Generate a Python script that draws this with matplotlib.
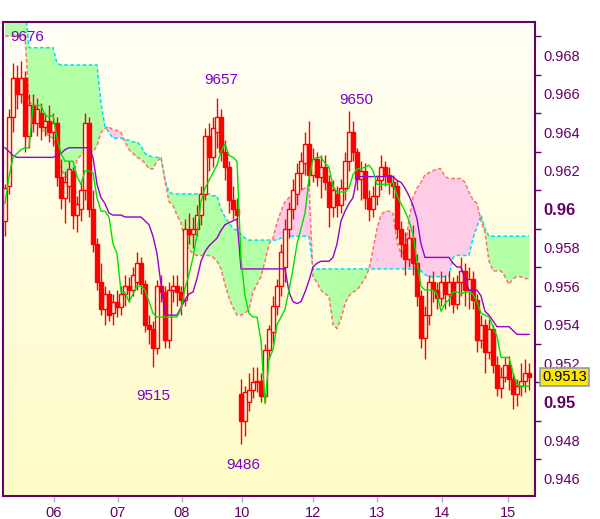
import numpy as np
import matplotlib.pyplot as plt
from matplotlib.transforms import blended_transform_factory

plt.rcParams['font.family'] = ['Liberation Sans', 'DejaVu Sans']

# hourly candles, prices in pips (1/10000)
opens = [9594, 9612, 9648, 9668, 9660, 9668, 9638, 9654, 9645, 9650,
         9643, 9646, 9640, 9645, 9617, 9606, 9612, 9620, 9597, 9600,
         9610, 9645, 9600, 9582, 9562, 9548, 9556, 9546, 9552, 9549,
         9556, 9560, 9558, 9562, 9572, 9561, 9540, 9538, 9528, 9560,
         9557, 9532, 9558, 9560, 9557, 9553, 9590, 9587, 9590, 9597,
         9608, 9638, 9627, 9640, 9648, 9630, 9622, 9605, 9600, 9504,
         9490, 9500, 9506, 9510, 9511, 9503, 9527, 9536, 9550, 9560,
         9570, 9590, 9600, 9608, 9619, 9624, 9634, 9618, 9626, 9617,
         9622, 9614, 9601, 9608, 9602, 9611, 9625, 9640, 9630, 9616,
         9620, 9606, 9600, 9607, 9615, 9622, 9618, 9614, 9612, 9590,
         9582, 9574, 9585, 9572, 9555, 9533, 9545, 9562, 9558, 9554,
         9562, 9556, 9562, 9551, 9562, 9568, 9558, 9564, 9553, 9532,
         9540, 9526, 9538, 9519, 9507, 9513, 9519, 9512, 9504, 9508,
         9511, 9515]
closes = [9611, 9648, 9668, 9660, 9668, 9638, 9654, 9645, 9652, 9643,
          9646, 9640, 9645, 9617, 9606, 9614, 9621, 9597, 9603, 9610,
          9645, 9600, 9582, 9562, 9548, 9556, 9545, 9552, 9549, 9556,
          9560, 9558, 9566, 9572, 9561, 9540, 9538, 9528, 9560, 9557,
          9532, 9558, 9560, 9557, 9553, 9590, 9587, 9590, 9597, 9608,
          9638, 9627, 9642, 9648, 9630, 9622, 9605, 9600, 9597, 9490,
          9505, 9506, 9510, 9511, 9503, 9527, 9538, 9550, 9560, 9578,
          9590, 9600, 9610, 9619, 9625, 9634, 9618, 9626, 9617, 9622,
          9614, 9601, 9610, 9602, 9611, 9625, 9640, 9630, 9616, 9620,
          9606, 9600, 9607, 9615, 9622, 9618, 9614, 9612, 9590, 9582,
          9574, 9585, 9572, 9555, 9533, 9545, 9562, 9558, 9554, 9562,
          9556, 9562, 9551, 9562, 9568, 9558, 9564, 9553, 9532, 9540,
          9526, 9538, 9519, 9507, 9513, 9519, 9512, 9504, 9508, 9511,
          9515, 9513]
highs = [9613, 9652, 9676, 9675, 9677, 9672, 9660, 9660, 9658, 9655,
         9650, 9654, 9650, 9648, 9626, 9620, 9625, 9622, 9607, 9614,
         9650, 9648, 9610, 9585, 9572, 9560, 9558, 9556, 9558, 9560,
         9566, 9565, 9570, 9578, 9575, 9563, 9545, 9542, 9563, 9566,
         9560, 9562, 9566, 9566, 9560, 9595, 9598, 9596, 9602, 9612,
         9642, 9645, 9648, 9658, 9652, 9636, 9625, 9612, 9606, 9512,
         9508, 9515, 9518, 9518, 9515, 9530, 9540, 9555, 9564, 9582,
         9595, 9604, 9616, 9624, 9630, 9640, 9646, 9632, 9630, 9628,
         9628, 9618, 9615, 9612, 9616, 9630, 9651, 9646, 9632, 9625,
         9624, 9610, 9612, 9618, 9628, 9625, 9622, 9618, 9615, 9594,
         9588, 9590, 9592, 9577, 9558, 9550, 9566, 9568, 9562, 9568,
         9566, 9568, 9565, 9566, 9575, 9572, 9570, 9568, 9556, 9545,
         9543, 9543, 9540, 9524, 9518, 9523, 9524, 9515, 9512, 9520,
         9522, 9520]
lows = [9586, 9608, 9640, 9652, 9655, 9630, 9632, 9640, 9638, 9636,
        9638, 9635, 9633, 9612, 9600, 9593, 9604, 9590, 9588, 9594,
        9605, 9596, 9578, 9558, 9545, 9540, 9542, 9540, 9544, 9545,
        9550, 9552, 9555, 9558, 9556, 9536, 9530, 9518, 9525, 9552,
        9528, 9528, 9552, 9550, 9545, 9550, 9582, 9580, 9586, 9592,
        9605, 9620, 9622, 9632, 9625, 9615, 9598, 9595, 9590, 9478,
        9482, 9495, 9502, 9505, 9500, 9500, 9522, 9530, 9545, 9555,
        9562, 9585, 9595, 9602, 9610, 9618, 9612, 9614, 9612, 9606,
        9610, 9591, 9596, 9596, 9598, 9605, 9620, 9625, 9610, 9605,
        9600, 9594, 9596, 9602, 9610, 9612, 9608, 9606, 9585, 9575,
        9566, 9570, 9566, 9550, 9528, 9522, 9540, 9552, 9548, 9550,
        9548, 9550, 9546, 9548, 9555, 9550, 9548, 9548, 9526, 9528,
        9515, 9522, 9515, 9503, 9502, 9510, 9506, 9496, 9498, 9503,
        9505, 9506]

tenkan = [9603, 9617, 9627, 9629, 9631, 9632, 9632, 9654, 9654, 9654,
          9649, 9648, 9649, 9637, 9629, 9625, 9625, 9625, 9617, 9613,
          9620, 9620, 9619, 9606, 9599, 9599, 9596, 9582, 9577, 9557,
          9557, 9552, 9556, 9560, 9560, 9558, 9552, 9546, 9544, 9544,
          9544, 9544, 9544, 9544, 9548, 9559, 9566, 9575, 9587, 9604,
          9611, 9615, 9619, 9623, 9630, 9634, 9628, 9627, 9625, 9574,
          9555, 9546, 9544, 9544, 9532, 9499, 9522, 9527, 9540, 9544,
          9548, 9558, 9569, 9582, 9590, 9598, 9616, 9626, 9627, 9627,
          9624, 9622, 9612, 9609, 9609, 9609, 9611, 9618, 9621, 9621,
          9622, 9623, 9620, 9613, 9613, 9613, 9613, 9614, 9607, 9603,
          9599, 9594, 9587, 9573, 9560, 9558, 9558, 9558, 9556, 9547,
          9551, 9553, 9557, 9557, 9556, 9557, 9557, 9556, 9552, 9546,
          9545, 9544, 9539, 9534, 9523, 9523, 9523, 9515, 9509, 9508,
          9508, 9508]
kijun = [9632, 9630, 9628, 9627, 9627, 9627, 9627, 9627, 9627, 9627,
         9627, 9627, 9627, 9628, 9629, 9631, 9632, 9632, 9632, 9632,
         9632, 9632, 9627, 9613, 9606, 9603, 9598, 9597, 9597, 9597,
         9596, 9596, 9596, 9596, 9596, 9594, 9592, 9586, 9577, 9561,
         9546, 9545, 9545, 9545, 9549, 9553, 9556, 9557, 9564, 9573,
         9578, 9581, 9583, 9585, 9589, 9592, 9593, 9594, 9595, 9569,
         9569, 9569, 9569, 9569, 9569, 9569, 9569, 9569, 9569, 9569,
         9569, 9557, 9552, 9551, 9552, 9557, 9563, 9570, 9572, 9573,
         9573, 9573, 9575, 9582, 9594, 9599, 9603, 9606, 9617, 9617,
         9617, 9617, 9617, 9617, 9617, 9617, 9617, 9617, 9615, 9614,
         9611, 9607, 9602, 9595, 9582, 9575, 9575, 9575, 9575, 9575,
         9575, 9575, 9572, 9570, 9570, 9564, 9558, 9558, 9558, 9555,
         9547, 9545, 9542, 9539, 9539, 9539, 9539, 9537, 9535, 9535,
         9535, 9535]
span_a = [9706, 9706, 9706, 9706, 9706, 9706, 9684, 9684, 9684, 9684,
          9684, 9684, 9684, 9676, 9675, 9675, 9675, 9675, 9675, 9675,
          9675, 9675, 9675, 9675, 9655, 9643, 9640, 9637, 9637, 9637,
          9636, 9636, 9635, 9635, 9633, 9629, 9628, 9627, 9627, 9627,
          9615, 9609, 9608, 9608, 9608, 9608, 9608, 9608, 9608, 9608,
          9608, 9608, 9607, 9607, 9600, 9596, 9593, 9590, 9589, 9587,
          9585, 9584, 9584, 9584, 9584, 9584, 9584, 9584, 9584, 9585,
          9586, 9586, 9586, 9586, 9586, 9586, 9586, 9569, 9569, 9569,
          9569, 9569, 9569, 9569, 9569, 9569, 9569, 9569, 9569, 9569,
          9569, 9569, 9569, 9569, 9569, 9569, 9569, 9569, 9569, 9569,
          9569, 9569, 9569, 9569, 9568, 9566, 9565, 9565, 9565, 9565,
          9565, 9565, 9575, 9576, 9576, 9576, 9576, 9585, 9591, 9597,
          9590, 9586, 9586, 9586, 9586, 9586, 9586, 9586, 9586, 9586,
          9586, 9586]
span_b = [9690, 9690, 9690, 9690, 9690, 9690, 9656, 9654, 9650, 9642,
          9640, 9638, 9637, 9632, 9621, 9617, 9616, 9616, 9626, 9628,
          9629, 9629, 9630, 9633, 9640, 9642, 9643, 9641, 9641, 9640,
          9635, 9631, 9629, 9627, 9626, 9624, 9621, 9621, 9625, 9627,
          9615, 9604, 9602, 9597, 9593, 9583, 9579, 9577, 9576, 9576,
          9576, 9576, 9575, 9573, 9569, 9561, 9554, 9549, 9545, 9545,
          9546, 9548, 9557, 9561, 9565, 9573, 9582, 9585, 9593, 9599,
          9604, 9606, 9608, 9609, 9610, 9611, 9613, 9565, 9562, 9558,
          9556, 9555, 9540, 9538, 9543, 9551, 9555, 9557, 9558, 9561,
          9564, 9569, 9579, 9590, 9597, 9599, 9599, 9598, 9583, 9577,
          9579, 9595, 9606, 9611, 9614, 9618, 9619, 9620, 9621, 9621,
          9617, 9616, 9616, 9616, 9616, 9614, 9609, 9605, 9603, 9594,
          9588, 9573, 9568, 9568, 9568, 9565, 9561, 9564, 9565, 9565,
          9564, 9564]

day_labels = ['06', '07', '08', '10', '12', '13', '14', '15']
day_pos = [12.25, 28.25, 44.25, 59.2, 77, 93, 109.3, 125.7]

peak_labels = ['9676', '9657', '9650', '9515', '9486']
last_price = 0.9513

# to prices
o = np.array(opens) / 10000
c = np.array(closes) / 10000
h = np.array(highs) / 10000
l = np.array(lows) / 10000
ten = np.array(tenkan) / 10000
kij = np.array(kijun) / 10000
sa = np.array(span_a) / 10000
sb = np.array(span_b) / 10000
x = np.arange(len(c))

purple = '#660066'
fig = plt.figure(figsize=(6, 5.19), dpi=100)
ax = fig.add_axes([3/600, 1 - 496/519, 532/600, 474/519])
ax.set_xlim(-0.5, 132.5)
ax.set_ylim(0.945099, 0.969735)

# background gradient
grad = np.linspace(0, 1, 256)
bg = np.zeros((256, 1, 3))
bg[:, 0, 0] = 1.0
bg[:, 0, 1] = 1.0 - 0.012 * grad
bg[:, 0, 2] = 0.96 - 0.18 * grad
ax.imshow(bg, extent=[0, 1, 0, 1], transform=ax.transAxes, aspect='auto', zorder=0)

# cloud
ax.fill_between(x, sa, sb, where=sa >= sb, interpolate=True, color='#b3ffa6', lw=0, zorder=1)
ax.fill_between(x, sa, sb, where=sb > sa, interpolate=True, color='#ffcce8', lw=0, zorder=1)
ax.plot(x, sa, color='#00e0f0', ls=(0, (2.5, 1.5)), lw=1.1, zorder=2)
ax.plot(x, sb, color='#ff7070', ls=(0, (2.5, 1.5)), lw=1.1, zorder=2)

# candles
ax.vlines(x, l, h, color='red', lw=1.0, zorder=3)
up = c >= o
bot = np.minimum(o, c)
hgt = np.maximum(np.abs(c - o), 0.00003)
ax.bar(x[up], hgt[up], bottom=bot[up], width=0.8, facecolor='#fffde0',
       edgecolor='red', lw=1.0, zorder=3)
ax.bar(x[~up], hgt[~up], bottom=bot[~up], width=0.8, facecolor='red',
       edgecolor='red', lw=1.0, zorder=3)

# tenkan / kijun
ax.plot(x, kij, color='#9900cc', lw=1.0, zorder=4)
ax.plot(x, ten, color='#00e000', lw=1.0, zorder=4)

# high / low labels
lab_c = '#7a00cc'
ax.text(5.5, 0.96896, peak_labels[0], color=lab_c, fontsize=11, ha='center', va='center', zorder=6)
ax.text(54, 0.96672, peak_labels[1], color=lab_c, fontsize=11, ha='center', va='center', zorder=6)
ax.text(87.75, 0.96568, peak_labels[2], color=lab_c, fontsize=11, ha='center', va='center', zorder=6)
ax.text(37, 0.9503, peak_labels[3], color=lab_c, fontsize=11, ha='center', va='center', zorder=6)
ax.text(59.5, 0.94671, peak_labels[4], color=lab_c, fontsize=11, ha='center', va='center', zorder=6)

# y axis on right
major = [0.946, 0.948, 0.950, 0.952, 0.954, 0.956, 0.958, 0.960, 0.962, 0.964, 0.966, 0.968]
major_lab = ['0.946', '0.948', '0.95', '0.952', '0.954', '0.956', '0.958', '0.96',
             '0.962', '0.964', '0.966', '0.968']
minor = [0.947, 0.949, 0.951, 0.953, 0.955, 0.957, 0.959, 0.961, 0.963, 0.965, 0.967, 0.969]
ax.yaxis.tick_right()
ax.set_yticks(major)
ax.set_yticklabels(major_lab)
ax.set_yticks(minor, minor=True)
ax.tick_params(axis='y', which='major', length=0, pad=6, labelcolor=purple, labelsize=10.5)
ax.tick_params(axis='y', which='minor', length=4, width=1, color=purple)
for t in ax.get_yticklabels():
    if t.get_text() in ('0.95', '0.96'):
        t.set_fontweight('bold')
        t.set_fontsize(12)

ax.set_xticks(day_pos)
ax.set_xticklabels(day_labels)
ax.tick_params(axis='x', length=4, width=1, color='#a8b0c8', labelcolor=purple,
               labelsize=10.5, pad=3)

for s in ax.spines.values():
    s.set_color(purple)
    s.set_linewidth(1.5)

# last price box
tr = blended_transform_factory(ax.transAxes, ax.transData)
ax.text(1.013, last_price, '0.9513', transform=tr, ha='left', va='center', fontsize=10.5,
        color='black', zorder=10, clip_on=False,
        bbox=dict(boxstyle='square,pad=0.15', fc='#ffe800', ec='#8c9cac', lw=1.2))

fig.savefig('out.png', dpi=100, facecolor='white')
